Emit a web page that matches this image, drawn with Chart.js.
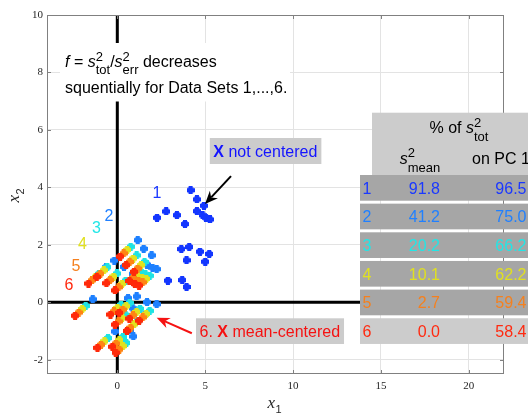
<!DOCTYPE html>
<html><head><meta charset="utf-8">
<script src="https://cdn.jsdelivr.net/npm/chart.js@4.4.1/dist/chart.umd.min.js"></script>
<style>html,body{margin:0;padding:0;background:#fff}</style>
</head><body>
<canvas id="c" width="528" height="413"></canvas>
<script>
// ---------- data ----------
const setLabels = ['1','2','3','4','5','6'];
const x1 = [4.17,4.53,4.93,4.53,4.85,5.04,5.27,2.26,2.78,3.39,3.85,3.64,4.09,4.70,5.23,3.94,5.00,2.88,3.69,3.94];
const y1 = [3.90,3.58,3.36,3.17,3.03,2.94,2.88,2.94,3.16,3.03,2.72,1.85,1.92,1.76,1.68,1.46,1.41,0.75,0.77,0.53];
const x2 = [1.16,1.50,1.95,1.69,2.00,2.24,-0.17,-0.64,-1.40,0.61,1.10,1.69,2.24,-0.13,0.72,0.91,0.87,0.38,0.87,1.55];
const y2 = [2.16,1.86,1.63,1.31,1.20,1.15,1.45,1.22,0.10,0.14,0.20,0.00,-0.07,-1.02,-0.98,-1.19,-0.21,1.23,0.98,-0.43];
const x3 = [0.76,1.10,1.55,1.29,1.60,1.84,-0.57,-1.04,-1.80,0.21,0.70,1.29,1.84,-0.53,0.32,0.51,0.47,-0.02,0.47,1.15];
const y3 = [1.93,1.63,1.40,1.08,0.97,0.92,1.22,0.99,-0.13,-0.09,-0.03,-0.23,-0.30,-1.25,-1.21,-1.42,-0.44,1.00,0.75,-0.66];
const x4 = [0.56,0.90,1.35,1.09,1.40,1.64,-0.77,-1.24,-2.00,0.01,0.50,1.09,1.64,-0.73,0.12,0.31,0.27,-0.22,0.27,0.95];
const y4 = [1.82,1.52,1.29,0.97,0.86,0.81,1.11,0.88,-0.24,-0.20,-0.14,-0.34,-0.41,-1.36,-1.32,-1.53,-0.55,0.89,0.64,-0.77];
const x5 = [0.36,0.70,1.15,0.89,1.20,1.44,-0.97,-1.44,-2.20,-0.19,0.30,0.89,1.44,-0.93,-0.08,0.11,0.07,-0.42,0.07,0.75];
const y5 = [1.70,1.40,1.17,0.85,0.74,0.69,0.99,0.76,-0.36,-0.32,-0.26,-0.46,-0.53,-1.48,-1.44,-1.65,-0.67,0.77,0.52,-0.89];
const x6 = [0.16,0.50,0.95,0.69,1.00,1.24,-1.17,-1.64,-2.40,-0.39,0.10,0.69,1.24,-1.13,-0.28,-0.09,-0.13,-0.62,-0.13,0.55];
const y6 = [1.59,1.29,1.06,0.74,0.63,0.58,0.88,0.65,-0.47,-0.43,-0.37,-0.57,-0.64,-1.59,-1.55,-1.76,-0.78,0.66,0.41,-1.00];
const pctMean = [91.8, 41.2, 20.2, 10.1, 2.7, 0.0];
const pctPC1  = [96.5, 75.0, 66.2, 62.2, 59.4, 58.4];
const xTicks = [0, 5, 10, 15, 20];
const yTicks = [-2, 0, 2, 4, 6, 8, 10];

// ---------- styles / annotation placement ----------
const colors = ['#1336FF','#1E80FF','#1FE3E3','#E2E21E','#FF8414','#FF2A0A'];
const textColors = ['#1A38FF','#2080FF','#22E6E6','#E0E020','#F5801E','#FF2A10'];
const labelPos = [[2.26,3.80],[-0.47,3.00],[-1.18,2.58],[-1.98,2.03],[-2.35,1.26],[-2.75,0.60]];
const SANS = '"Liberation Sans", Arial, Helvetica, sans-serif';
const SERIF = '"Liberation Serif", "Times New Roman", serif';

function makeMarker(color){
  const c = document.createElement('canvas'); c.width = 8; c.height = 8;
  const g = c.getContext('2d'); g.fillStyle = color;
  g.fillRect(0,2,8,4); g.fillRect(2,0,4,8);
  g.beginPath(); g.arc(4,4,3.4,0,Math.PI*2); g.fill();
  return c;
}

const seriesX = [x1,x2,x3,x4,x5,x6];
const seriesY = [y1,y2,y3,y4,y5,y6];
const datasets = seriesX.map((xs,k)=>({
  label: setLabels[k],
  data: xs.map((v,i)=>({x:v, y:seriesY[k][i]})),
  pointStyle: makeMarker(colors[k]),
  pointRadius: 4,
  order: 6-k,
  showLine: false
}));

function partW(ctx,p){
  ctx.font = p.f;
  if (p.sup !== undefined) return Math.max(ctx.measureText(p.sup).width, ctx.measureText(p.sub).width);
  return ctx.measureText(p.t).width;
}
function richWidth(ctx,parts){ return parts.reduce((s,p)=>s+partW(ctx,p),0); }
function drawRich(ctx,x,y,parts,color){
  let cx = x; ctx.textAlign='left'; ctx.textBaseline='alphabetic';
  for (const p of parts){
    ctx.fillStyle = p.c || color; ctx.font = p.f;
    if (p.sup !== undefined){
      ctx.fillText(p.sup, cx, y + p.supDy);
      ctx.fillText(p.sub, cx, y + p.subDy);
    } else ctx.fillText(p.t, cx, y + (p.dy||0));
    cx += partW(ctx,p);
  }
  return cx;
}
function arrow(ctx,x1,y1,x2,y2,color){
  const a = Math.atan2(y2-y1,x2-x1), c = Math.cos(a), s = Math.sin(a);
  const L = 13, W = 5.5, B = 9;
  ctx.strokeStyle = color; ctx.fillStyle = color; ctx.lineWidth = 2;
  ctx.beginPath(); ctx.moveTo(x1,y1); ctx.lineTo(x2-B*c, y2-B*s); ctx.stroke();
  ctx.beginPath(); ctx.moveTo(x2,y2);
  ctx.lineTo(x2 - L*c + W*s, y2 - L*s - W*c);
  ctx.lineTo(x2 - B*c, y2 - B*s);
  ctx.lineTo(x2 - L*c - W*s, y2 - L*s + W*c);
  ctx.closePath(); ctx.fill();
}

const deco = {
  id: 'deco',
  beforeDatasetsDraw(chart){
    const {ctx, chartArea:a, scales:{x,y}} = chart;
    ctx.save(); ctx.strokeStyle = '#000'; ctx.lineWidth = 3;
    const x0 = x.getPixelForValue(0), y0 = y.getPixelForValue(0);
    ctx.beginPath(); ctx.moveTo(x0,a.top); ctx.lineTo(x0,a.bottom);
    ctx.moveTo(a.left,y0); ctx.lineTo(a.right,y0); ctx.stroke();
    ctx.restore();
  },
  afterDraw(chart){
    const {ctx, chartArea:a, scales:{x,y}} = chart;
    ctx.save();
    // box + inward ticks
    ctx.strokeStyle = '#808080'; ctx.lineWidth = 1;
    ctx.strokeRect(a.left+0.5, a.top+0.5, a.right-a.left-1, a.bottom-a.top-1);
    ctx.beginPath();
    xTicks.forEach(v=>{const p=Math.round(x.getPixelForValue(v))+0.5; ctx.moveTo(p,a.bottom); ctx.lineTo(p,a.bottom-4); ctx.moveTo(p,a.top); ctx.lineTo(p,a.top+4);});
    yTicks.forEach(v=>{const p=Math.round(y.getPixelForValue(v))+0.5; ctx.moveTo(a.left,p); ctx.lineTo(a.left+4,p); ctx.moveTo(a.right,p); ctx.lineTo(a.right-4,p);});
    ctx.stroke();

    // axis titles
    ctx.fillStyle = '#262626';
    const xc = (a.left+a.right)/2;
    ctx.font = 'italic 17px ' + SERIF; ctx.textAlign='left'; ctx.textBaseline='alphabetic';
    const xw = ctx.measureText('x').width;
    ctx.fillText('x', xc-8, 408);
    ctx.font = '11px ' + SANS; ctx.fillText('1', xc-8+xw+0.5, 412.5);
    ctx.save(); ctx.translate(18.5, (a.top+a.bottom)/2+8); ctx.rotate(-Math.PI/2);
    ctx.font = 'italic 17px ' + SERIF; ctx.fillText('x', 0, 0);
    ctx.font = '11px ' + SANS; ctx.fillText('2', xw+0.5, 5);
    ctx.restore();

    // main text box
    ctx.fillStyle = '#fff'; ctx.fillRect(60, 43, 230, 58.5);
    const big = '16px ' + SANS, ital = 'italic 16px ' + SANS, small = '13px ' + SANS;
    drawRich(ctx, 65, 67, [
      {t:'f', f:ital}, {t:' = ', f:big}, {t:'s', f:ital},
      {sup:'2', sub:'tot', f:small, supDy:-6, subDy:7},
      {t:'/', f:big}, {t:'s', f:ital},
      {sup:'2', sub:'err', f:small, supDy:-6, subDy:7},
      {t:' decreases', f:big}
    ], '#000');
    ctx.font = big; ctx.fillStyle = '#000';
    ctx.fillText('squentially for Data Sets 1,...,6.', 65, 93);

    // set number labels
    ctx.font = '16px ' + SANS; ctx.textAlign='center'; ctx.textBaseline='middle';
    labelPos.forEach((p,k)=>{ ctx.fillStyle = textColors[k]; ctx.fillText(setLabels[k], x.getPixelForValue(p[0]), y.getPixelForValue(p[1])+0.5); });

    // "X not centered" annotation
    const bold = 'bold 16px ' + SANS;
    const p1 = [{t:'X', f:bold}, {t:' not centered', f:big}];
    const w1 = richWidth(ctx,p1);
    ctx.fillStyle = '#CCCCCC'; ctx.fillRect(209.8, 138, w1+7.5, 26);
    drawRich(ctx, 213.3, 156.7, p1, '#1414FF');
    arrow(ctx, x.getPixelForValue(6.47), y.getPixelForValue(4.39), x.getPixelForValue(4.99), y.getPixelForValue(3.42), '#000');

    // "6. X mean-centered" annotation
    const p2 = [{t:'6. ', f:big}, {t:'X', f:bold}, {t:' mean-centered', f:big}];
    const w2 = richWidth(ctx,p2);
    ctx.fillStyle = '#CCCCCC'; ctx.fillRect(196, 318.3, w2+7.5, 25.7);
    drawRich(ctx, 199.5, 336.7, p2, '#F51212');
    arrow(ctx, x.getPixelForValue(4.24), y.getPixelForValue(-1.08), x.getPixelForValue(2.24), y.getPixelForValue(-0.54), '#F51212');

    // table
    ctx.fillStyle = '#CCCCCC'; ctx.fillRect(372, 112.7, 156, 62.3);
    const hdr = [{t:'% of ', f:big}, {t:'s', f:ital}, {sup:'2', sub:'tot', f:small, supDy:-6, subDy:8}];
    const hw = richWidth(ctx,hdr);
    drawRich(ctx, 459 - hw/2, 133, hdr, '#000');
    const h2 = [{t:'s', f:ital}, {sup:'2', sub:'mean', f:small, supDy:-7, subDy:8}];
    const h2w = richWidth(ctx,h2);
    drawRich(ctx, 420 - h2w/2, 164, h2, '#000');
    ctx.font = big; ctx.fillStyle='#000'; ctx.textAlign='left'; ctx.fillText('on PC 1', 472, 164);
    const top0 = 175, pitch = 28.65, rh = 25.7;
    for (let i=0;i<6;i++){
      const t = top0 + i*pitch;
      ctx.fillStyle = i<5 ? '#A6A6A6' : '#CCCCCC';
      ctx.fillRect(360, t, 168, rh);
      ctx.fillStyle = textColors[i]; ctx.font = big; ctx.textBaseline='alphabetic';
      const base = t + rh/2 + 5.8;
      ctx.textAlign='left'; ctx.fillText(setLabels[i], 362.5, base);
      ctx.textAlign='right'; ctx.fillText(pctMean[i].toFixed(1), 440, base);
      ctx.fillText(pctPC1[i].toFixed(1), 526.5, base);
    }
    ctx.restore();
  }
};

new Chart(document.getElementById('c'), {
  type: 'scatter',
  data: { datasets },
  options: {
    responsive: false, animation: false,
    layout: { padding: { top: 15, right: 24, left: 0, bottom: 0 } },
    plugins: { legend: { display: false }, tooltip: { enabled: false } },
    scales: {
      x: {
        type: 'linear', min: -4, max: 22,
        afterBuildTicks: s => { s.ticks = xTicks.map(v => ({ value: v })); },
        afterFit: s => { s.height = 39; },
        grid: { color: '#E3E3E3', drawTicks: false },
        border: { display: false },
        ticks: { font: { family: SERIF, size: 11 }, color: '#262626', padding: 6, maxRotation: 0 }
      },
      y: {
        type: 'linear', min: -2.5, max: 10,
        afterBuildTicks: s => { s.ticks = yTicks.map(v => ({ value: v })); },
        afterFit: s => { s.width = 47; },
        grid: { color: '#E3E3E3', drawTicks: false },
        border: { display: false },
        ticks: { font: { family: SERIF, size: 11 }, color: '#262626', padding: 4 }
      }
    }
  },
  plugins: [deco]
});
</script>
</body></html>
